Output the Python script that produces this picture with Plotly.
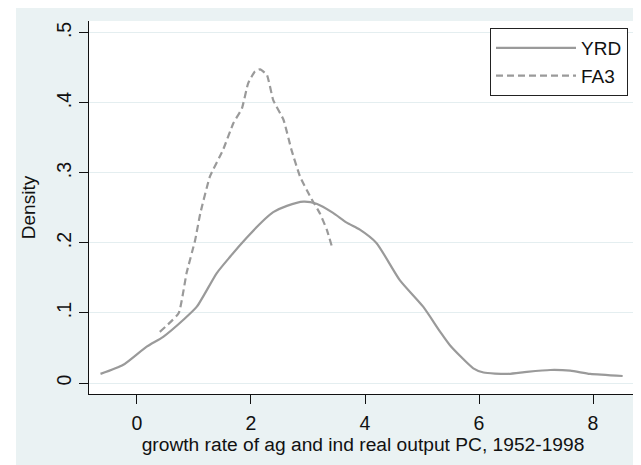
import plotly.graph_objects as go

# YRD kernel density (solid)
yrd_x = [-0.64, -0.24, 0.17, 0.46, 0.81, 1.05, 1.40, 1.63, 1.92, 2.19, 2.39, 2.63, 2.92,
         3.15, 3.44, 3.68, 3.91, 4.20, 4.61, 5.02, 5.32, 5.49, 5.90, 6.08, 6.49, 6.84,
         7.25, 7.60, 7.95, 8.52]
yrd_y = [0.013, 0.026, 0.052, 0.066, 0.090, 0.109, 0.157, 0.180, 0.207, 0.230, 0.244,
         0.253, 0.259, 0.256, 0.243, 0.229, 0.219, 0.200, 0.147, 0.109, 0.073, 0.054,
         0.021, 0.015, 0.013, 0.016, 0.0186, 0.0176, 0.013, 0.010]

# FA3 kernel density (dashed)
fa3_x = [0.40, 0.73, 0.87, 1.02, 1.11, 1.28, 1.51, 1.69, 1.84, 1.95, 2.07, 2.16, 2.28,
         2.39, 2.57, 2.71, 2.86, 3.04, 3.21, 3.33, 3.43]
fa3_y = [0.073, 0.0995, 0.157, 0.204, 0.242, 0.295, 0.333, 0.371, 0.392, 0.428, 0.445,
         0.448, 0.440, 0.404, 0.376, 0.333, 0.295, 0.266, 0.242, 0.219, 0.192]

y_ticks = [0, 0.1, 0.2, 0.3, 0.4, 0.5]
y_ticklabels = ["0", ".1", ".2", ".3", ".4", ".5"]
x_ticks = [0, 2, 4, 6, 8]

LINE = "#9a9a9a"
BG = "#eaf2f3"
TXT = "#111111"
FONT = "Liberation Sans, Arial, sans-serif"

# page body has an 8px margin: figure origin sits at (8, 8) in the window
W, H = 633, 457
L, R, T, B = 81, 4, 13, 71
PW = W - L - R
PH = H - T - B

fig = go.Figure()
fig.add_trace(go.Scatter(x=yrd_x, y=yrd_y, mode="lines", name="YRD",
                         line=dict(color=LINE, width=2.2, shape="spline", smoothing=0.6)))
fig.add_trace(go.Scatter(x=fa3_x, y=fa3_y, mode="lines", name="FA3",
                         line=dict(color=LINE, width=2.2, dash="7px,4px",
                                   shape="spline", smoothing=0.4)))

fig.update_layout(
    width=W, height=H,
    margin=dict(l=L, r=R, t=T, b=B, autoexpand=False),
    paper_bgcolor=BG, plot_bgcolor="white",
    font=dict(family=FONT, size=19, color=TXT),
    showlegend=True,
    legend=dict(x=(620 - L) / PW, y=1 - 7 / PH, xanchor="right", yanchor="top",
                bgcolor="white", bordercolor="#222222", borderwidth=1,
                font=dict(size=19, color=TXT), tracegroupgap=0,
                itemwidth=80),
    xaxis=dict(range=[-0.842, 8.772], tickvals=x_ticks, showgrid=False, zeroline=False,
               automargin=False, ticklabelstandoff=2, tickfont=dict(size=19.5),
               showline=True, linecolor="#111111", linewidth=1.3,
               ticks="outside", ticklen=9, tickcolor="#111111", tickwidth=1.3,
               title=dict(text="growth rate of ag and ind real output PC, 1952-1998",
                          standoff=2, font=dict(size=19.2))),
    yaxis=dict(range=[-0.0157, 0.517], tickvals=y_ticks, ticktext=y_ticklabels,
               tickangle=-90, showgrid=True, gridcolor="#e4eef0", gridwidth=1,
               automargin=False, tickfont=dict(size=19.5),
               zeroline=False, showline=True, linecolor="#111111", linewidth=1.3,
               ticks="outside", ticklen=9, tickcolor="#111111", tickwidth=1.3,
               title=dict(text="Density", standoff=12, font=dict(size=19))),
    shapes=[
        dict(type="rect", xref="paper", yref="paper", x0=-L / PW - 0.01, x1=(8 - L) / PW,
             y0=-0.3, y1=1.2, fillcolor="white", line=dict(width=0), layer="below"),
    ],
)

fig.write_html("out.html")
